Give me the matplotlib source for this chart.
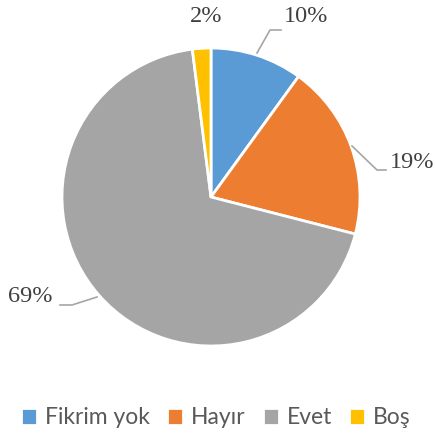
import matplotlib.pyplot as plt

# Veriler
labels = ["Fikrim yok", "Hayır", "Evet", "Boş"]
values = [10, 19, 69, 2]
colors = ["#5B9BD5", "#ED7D31", "#A5A5A5", "#FFC000"]
pct_text = ["10%", "19%", "69%", "2%"]

W, H = 436, 437
fig = plt.figure(figsize=(W / 100, H / 100), dpi=100)

# pasta merkezi ve yarıçap (piksel)
cx, cy, r = 211, 197, 149
ax = fig.add_axes([(cx - r) / W, (H - cy - r) / H, 2 * r / W, 2 * r / H])
wedges, _ = ax.pie(values, colors=colors, startangle=90, counterclock=False,
                   wedgeprops=dict(edgecolor="white", linewidth=2))
ax.set_xlim(-1, 1)
ax.set_ylim(-1, 1)
ax.axis("off")


def px(x, y):
    # piksel -> veri koordinatı
    return (x - cx) / r, (cy - y) / r


lab_font = dict(family="Liberation Serif", fontsize=17.5, color="#404040")
line_kw = dict(color="#A6A6A6", linewidth=1.2, clip_on=False)

# etiketler ve çizgiler
for (x, y), t in zip([(284, 17), (390, 162), (8, 297), (190, 17)], pct_text):
    ax.text(*px(x, y), t, ha="left", va="center", **lab_font)

pts = [px(257, 53), px(270, 30), px(281, 30)]
ax.plot([p[0] for p in pts], [p[1] for p in pts], **line_kw)
pts = [px(352, 146), px(377, 170), px(386, 170)]
ax.plot([p[0] for p in pts], [p[1] for p in pts], **line_kw)
pts = [px(60, 305), px(72, 305), px(97, 297)]
ax.plot([p[0] for p in pts], [p[1] for p in pts], **line_kw)

fig.legend(wedges, labels, loc="center", bbox_to_anchor=(0.495, (H - 418) / H),
           ncol=4, frameon=False, handlelength=0.7, handleheight=0.7,
           handletextpad=0.35, columnspacing=0.75,
           prop=dict(family="Lato", size=16.5), labelcolor="#595959")

fig.savefig("out.png", dpi=100)
